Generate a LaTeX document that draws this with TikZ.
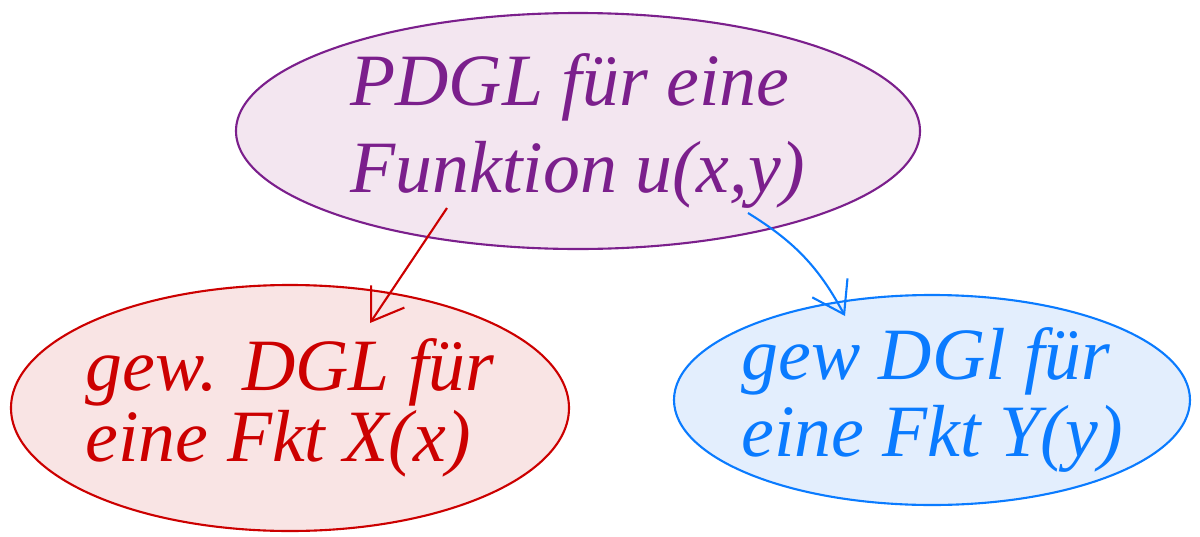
\documentclass[tikz,border=0pt]{standalone}
\usepackage{fontspec}
\setmainfont{Liberation Serif}
\usetikzlibrary{shapes.geometric,arrows.meta}

\definecolor{pdglline}{HTML}{7B1F8C}
\definecolor{pdglfill}{HTML}{F3E6F0}
\definecolor{xline}{HTML}{CC0000}
\definecolor{xfill}{HTML}{F9E4E4}
\definecolor{yline}{HTML}{0A7BFF}
\definecolor{yfill}{HTML}{E3EEFD}

\tikzset{
  blob/.style={ellipse,draw,semithick,inner sep=-5mm,align=left,
    font=\fontsize{21}{#1}\selectfont\itshape},
  sep/.style={-{Straight Barb[length=3mm,width=4mm]},semithick}
}

\begin{document}
\begin{tikzpicture}
        \useasboundingbox (0,0) rectangle (12,5.36);

        % PDGL
        \node[blob=25,draw=pdglline,fill=pdglfill,text=pdglline,
              minimum width=6.84cm,minimum height=2.36cm] (pdgl) at (5.78,4.05)
              {PDGL für eine\\Funktion u(x,y)};

        % X(x)
        \node[blob=19,draw=xline,fill=xfill,text=xline,
              minimum width=5.58cm,minimum height=2.46cm] (odex) at (2.90,1.28)
              {gew. DGL für\\eine Fkt X(x)};

        % Y(y)
        \node[blob=22,draw=yline,fill=yfill,text=yline,
              minimum width=5.16cm,minimum height=2.10cm] (odey) at (9.32,1.36)
              {gew DGl für\\eine Fkt Y(y)};

        % Arrows
        \coordinate (xfrom) at (4.47,3.28);
        \coordinate (xto) at (3.70,2.13);
        \coordinate (yfrom) at (7.48,3.23);
        \coordinate (yto) at (8.45,2.20);
        \draw[sep,xline] (xfrom) -- (xto);
        \draw[sep,yline] (yfrom) to[bend left=15] (yto);

\end{tikzpicture}
\end{document}
